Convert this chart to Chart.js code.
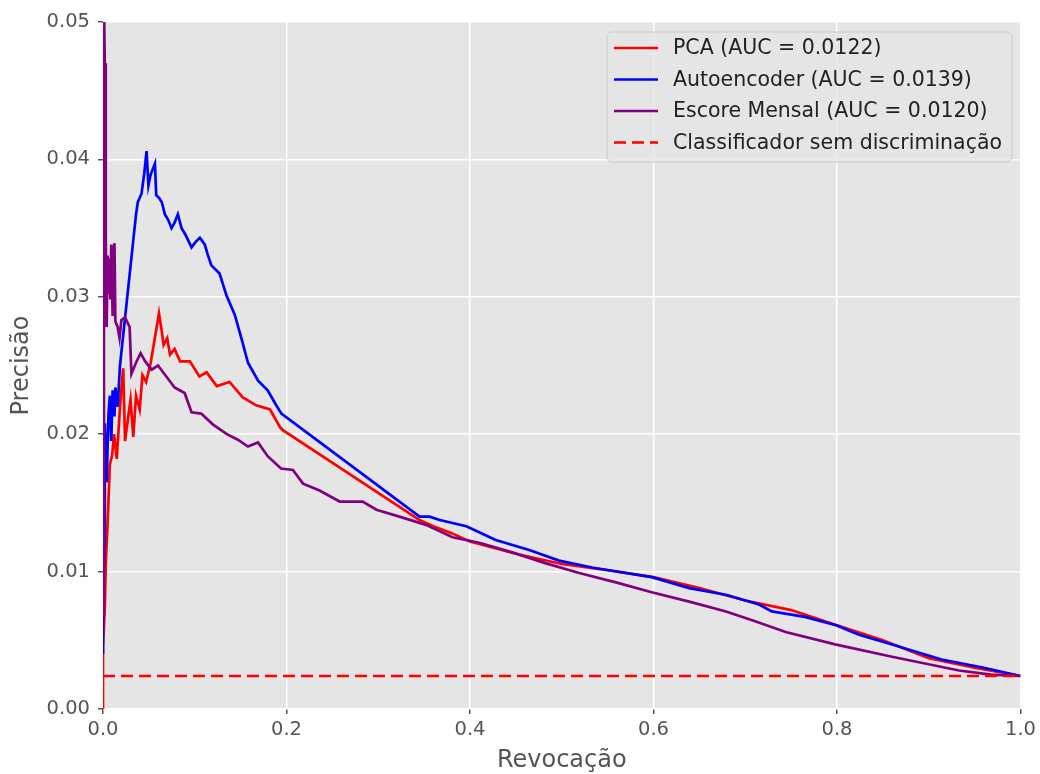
<!DOCTYPE html>
<html>
<head>
<meta charset="utf-8">
<script src="https://cdn.jsdelivr.net/npm/chart.js@4/dist/chart.umd.min.js"></script>
<style>
  html, body { margin: 0; padding: 0; background: #fff; }
  #wrap { width: 1040px; height: 774px; }
</style>
</head>
<body>
<div id="wrap"><canvas id="prChart" width="1040" height="774"></canvas></div>
<script>
// Curvas precisão x revocação
const pcaRecall = [0.0, 0.0, 0.002, 0.003, 0.005, 0.0075, 0.01, 0.012, 0.015, 0.019, 0.022, 0.024, 0.027, 0.03, 0.033, 0.036, 0.04, 0.043, 0.047, 0.052, 0.061, 0.064, 0.066, 0.07, 0.073, 0.078, 0.084, 0.0947, 0.105, 0.113, 0.124, 0.138, 0.152, 0.167, 0.182, 0.193, 0.196, 0.345, 0.36, 0.38, 0.4, 0.45, 0.5, 0.55, 0.6, 0.65, 0.7, 0.75, 0.8, 0.85, 0.9, 0.95, 1.0];
const pcaPrecision = [0.0, 0.0045, 0.0075, 0.0105, 0.0135, 0.0178, 0.0185, 0.02, 0.0182, 0.0225, 0.0248, 0.0195, 0.021, 0.0225, 0.0198, 0.0228, 0.0218, 0.0243, 0.0238, 0.0252, 0.0288, 0.0275, 0.0265, 0.027, 0.0258, 0.0262, 0.0253, 0.0253, 0.0242, 0.0245, 0.0235, 0.0238, 0.0227, 0.0221, 0.0218, 0.0205, 0.0203, 0.01375, 0.0133, 0.0128, 0.0122, 0.0113, 0.01055, 0.0101, 0.0096, 0.0088, 0.0079, 0.0072, 0.0061, 0.005, 0.0037, 0.003, 0.0024];

const aeRecall = [0.0, 0.0, 0.002, 0.002, 0.004, 0.006, 0.0075, 0.009, 0.0105, 0.0125, 0.0135, 0.016, 0.0185, 0.036, 0.038, 0.042, 0.045, 0.0475, 0.0495, 0.052, 0.0566, 0.058, 0.061, 0.064, 0.0675, 0.071, 0.0747, 0.078, 0.0816, 0.0856, 0.09, 0.0965, 0.101, 0.1056, 0.111, 0.114, 0.118, 0.127, 0.1346, 0.1436, 0.152, 0.158, 0.169, 0.1795, 0.188, 0.1944, 0.345, 0.356, 0.367, 0.396, 0.428, 0.4646, 0.497, 0.533, 0.598, 0.639, 0.68, 0.715, 0.729, 0.765, 0.799, 0.824, 0.86, 0.914, 0.96, 1.0];
const aePrecision = [0.004, 0.0085, 0.0125, 0.0208, 0.0165, 0.0215, 0.0228, 0.0195, 0.0232, 0.0213, 0.0234, 0.022, 0.025, 0.036, 0.0369, 0.0375, 0.039, 0.0406, 0.0381, 0.0389, 0.0397, 0.0374, 0.0372, 0.0369, 0.036, 0.0356, 0.035, 0.0354, 0.036, 0.035, 0.0345, 0.0336, 0.034, 0.0343, 0.0338, 0.0331, 0.0323, 0.0317, 0.0301, 0.0287, 0.0267, 0.0252, 0.0239, 0.0232, 0.0222, 0.0215, 0.014, 0.014, 0.01375, 0.0133, 0.0123, 0.01157, 0.0108, 0.0103, 0.0096, 0.0088, 0.0083, 0.0076, 0.0071, 0.0067, 0.0061, 0.0054, 0.0047, 0.0036, 0.003, 0.0024];

const escRecall = [0.0, 0.001, 0.002, 0.003, 0.003, 0.004, 0.005, 0.006, 0.007, 0.008, 0.009, 0.0105, 0.011, 0.0125, 0.0135, 0.016, 0.018, 0.02, 0.024, 0.029, 0.031, 0.036, 0.041, 0.046, 0.053, 0.06, 0.069, 0.078, 0.089, 0.0965, 0.107, 0.12, 0.135, 0.147, 0.158, 0.169, 0.1795, 0.194, 0.207, 0.218, 0.236, 0.258, 0.283, 0.298, 0.323, 0.352, 0.381, 0.41, 0.446, 0.483, 0.519, 0.56, 0.598, 0.64, 0.679, 0.71, 0.744, 0.798, 0.86, 0.933, 0.968, 1.0];
const escPrecision = [0.0068, 0.052, 0.0465, 0.047, 0.0345, 0.0278, 0.033, 0.0302, 0.0328, 0.0298, 0.0338, 0.0286, 0.0331, 0.0339, 0.0282, 0.0278, 0.027, 0.0283, 0.0285, 0.0278, 0.0244, 0.0252, 0.0259, 0.0253, 0.0247, 0.025, 0.0242, 0.0234, 0.023, 0.0216, 0.0215, 0.0207, 0.02, 0.0196, 0.0191, 0.0194, 0.0184, 0.0175, 0.0174, 0.0164, 0.0159, 0.0151, 0.0151, 0.0145, 0.014, 0.0134, 0.0125, 0.0121, 0.0114, 0.0106, 0.0099, 0.0092, 0.0085, 0.0078, 0.0071, 0.0064, 0.0056, 0.0047, 0.0038, 0.0028, 0.0025, 0.0024];

const baseRecall = [0.0, 1.0];
const basePrecision = [0.0024, 0.0024];

const xTicks = [0.0, 0.2, 0.4, 0.6, 0.8, 1.0];
const yTicks = [0.00, 0.01, 0.02, 0.03, 0.04, 0.05];

const legendLabels = ['PCA (AUC = 0.0122)', 'Autoencoder (AUC = 0.0139)', 'Escore Mensal (AUC = 0.0120)', 'Classificador sem discriminação'];

function toPoints(xs, ys) {
    return xs.map((x, i) => ({ x, y: ys[i] }));
}

// Fundo cinza da área do gráfico (estilo ggplot)
const plotBackground = {
    id: 'plotBackground',
    beforeDraw(chart) {
        const { ctx, chartArea: a } = chart;
        ctx.save();
        ctx.fillStyle = '#e5e5e5';
        ctx.fillRect(a.left, a.top, a.right - a.left, a.bottom - a.top);
        ctx.restore();
    }
};

// Legenda dentro do gráfico, canto superior direito
const insideLegend = {
    id: 'insideLegend',
    afterDraw(chart) {
        const ctx = chart.ctx;
        const x0 = 607, y0 = 32, w = 405, h = 130, r = 5;
        ctx.save();
        ctx.beginPath();
        ctx.roundRect(x0, y0, w, h, r);
        ctx.fillStyle = 'rgba(229,229,229,0.8)';
        ctx.fill();
        ctx.strokeStyle = '#cccccc';
        ctx.lineWidth = 1;
        ctx.stroke();
        ctx.font = '20.5px "DejaVu Sans"';
        ctx.textBaseline = 'middle';
        chart.data.datasets.forEach((ds, i) => {
            const cy = 48 + i * 31.5;
            ctx.beginPath();
            ctx.setLineDash(ds.borderDash || []);
            ctx.strokeStyle = ds.borderColor;
            ctx.lineWidth = ds.borderWidth;
            ctx.moveTo(614, cy);
            ctx.lineTo(658, cy);
            ctx.stroke();
            ctx.setLineDash([]);
            ctx.fillStyle = '#222';
            ctx.fillText(legendLabels[i], 673, cy + 1);
        });
        ctx.restore();
    }
};

const lineDefaults = { showLine: true, pointRadius: 0, borderWidth: 2.7, fill: false, tension: 0 };

new Chart(document.getElementById('prChart'), {
    type: 'scatter',
    data: {
        datasets: [
            { ...lineDefaults, label: legendLabels[0], data: toPoints(pcaRecall, pcaPrecision), borderColor: '#ff0000', order: 3 },
            { ...lineDefaults, label: legendLabels[1], data: toPoints(aeRecall, aePrecision), borderColor: '#0000ff', order: 2 },
            { ...lineDefaults, label: legendLabels[2], data: toPoints(escRecall, escPrecision), borderColor: '#800080', order: 1 },
            { ...lineDefaults, label: legendLabels[3], data: toPoints(baseRecall, basePrecision), borderColor: '#ff0000', borderDash: [12, 6], order: 0 }
        ]
    },
    options: {
        responsive: false,
        animation: false,
        layout: { padding: { left: 0, top: 22, right: 18, bottom: 0 } },
        plugins: { legend: { display: false }, tooltip: { enabled: false } },
        scales: {
            x: {
                type: 'linear', min: 0, max: 1,
                afterFit: (s) => { s.height = 65; },
                afterBuildTicks: (s) => { s.ticks = xTicks.map(v => ({ value: v })); },
                grid: { color: '#ffffff', lineWidth: 1.5, tickColor: '#555555', tickLength: 5, drawOnChartArea: true },
                border: { display: false },
                ticks: { color: '#555555', font: { family: 'DejaVu Sans', size: 19.5 }, padding: 4, maxRotation: 0, callback: (v) => v.toFixed(1) },
                title: { display: true, text: 'Revocação', color: '#555555', font: { family: 'DejaVu Sans', size: 24 }, padding: { top: 0, bottom: -1 } }
            },
            y: {
                type: 'linear', min: 0, max: 0.05,
                afterFit: (s) => { s.width = 103; },
                afterBuildTicks: (s) => { s.ticks = yTicks.map(v => ({ value: v })); },
                grid: { color: '#ffffff', lineWidth: 1.5, tickColor: '#555555', tickLength: 5 },
                border: { display: false },
                ticks: { color: '#555555', font: { family: 'DejaVu Sans', size: 19.5 }, padding: 8, callback: (v) => v.toFixed(2) },
                title: { display: true, text: 'Precisão', color: '#555555', font: { family: 'DejaVu Sans', size: 24 }, padding: { top: 7, bottom: 0 } }
            }
        }
    },
    plugins: [plotBackground, insideLegend]
});
</script>
</body>
</html>
